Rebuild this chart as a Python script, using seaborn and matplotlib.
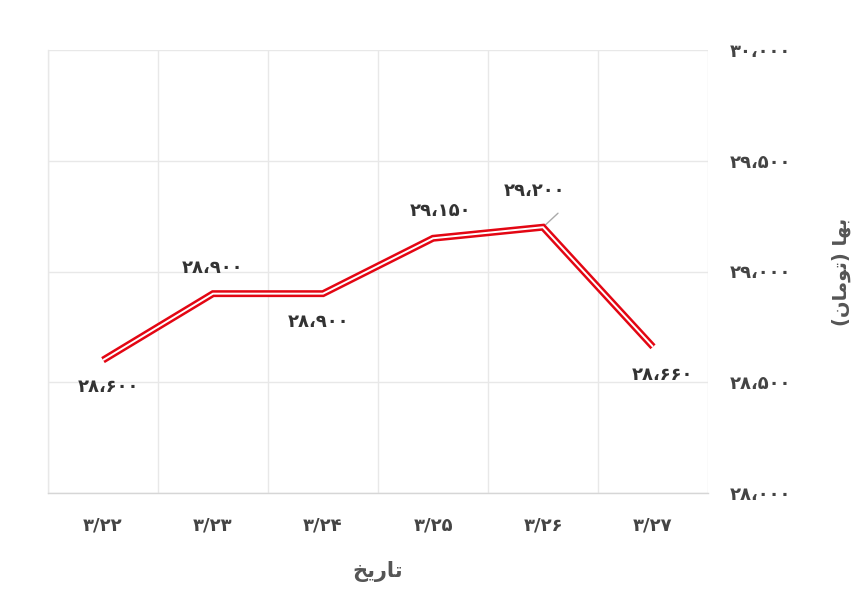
import matplotlib
matplotlib.use("Agg")
import matplotlib.pyplot as plt
import seaborn as sns
import pandas as pd

# --- data ---
DATES = ["3/22", "3/23", "3/24", "3/25", "3/26", "3/27"]
PRICES = [28600, 28900, 28900, 29150, 29200, 28660]
Y_TICKS = [28000, 28500, 29000, 29500, 30000]

# label offsets (pixels) relative to each point
LABEL_OFFSETS = [(5, -27), (0, 26), (-5, -28), (7, 27), (-8, 36), (9, -28)]

# shaped Persian text in visual order (matplotlib has no bidi/shaping)
X_LABEL = "\ufea6\ufbfe\ufead\ufe8e\ufe97"          # تاریخ
Y_LABEL = "(\ufee5\ufe8e\ufee3\ufeee\ufe97) \ufe8e\ufeec\ufe91"  # بها (تومان)

FA_DIGITS = str.maketrans("0123456789,", "۰۱۲۳۴۵۶۷۸۹،")


def fa(text):
    return str(text).translate(FA_DIGITS)


def fa_num(v):
    return fa(f"{v:,}")


df = pd.DataFrame({"date": DATES, "price": PRICES})
df["pos"] = range(len(df))

sns.set_theme(style="white")
plt.rcParams["font.family"] = ["DejaVu Sans"]

fig = plt.figure(figsize=(8.6, 5.96), dpi=100)
ax = fig.add_axes([48 / 860, 1 - 493 / 596, 660 / 860, 443 / 596])

sns.lineplot(data=df, x="pos", y="price", ax=ax, color="#e30613", linewidth=5,
             solid_joinstyle="miter", solid_capstyle="butt", zorder=3)
sns.lineplot(data=df, x="pos", y="price", ax=ax, color="white", linewidth=1.4,
             solid_joinstyle="miter", solid_capstyle="butt", zorder=4)

ax.set_xlim(-0.5, len(DATES) - 0.5)
ax.set_ylim(Y_TICKS[0], Y_TICKS[-1])

ax.set_xticks(df["pos"])
ax.set_xticklabels([fa(d) for d in DATES])
ax.set_xticks([p + 0.5 for p in range(-1, len(DATES))], minor=True)
ax.set_yticks(Y_TICKS)
ax.set_yticklabels([fa_num(v) for v in Y_TICKS])

ax.yaxis.tick_right()
ax.yaxis.set_label_position("right")
ax.tick_params(axis="both", which="both", length=0, colors="#444444", labelsize=13)
ax.tick_params(axis="x", pad=17)
ax.tick_params(axis="y", pad=16)
for lbl in ax.get_xticklabels() + ax.get_yticklabels():
    lbl.set_fontweight("bold")
for lbl in ax.get_yticklabels():
    lbl.set_horizontalalignment("left")

ax.grid(False)
ax.grid(True, axis="y", which="major", color="#e8e8e8", linewidth=1)
ax.grid(True, axis="x", which="minor", color="#e8e8e8", linewidth=1)

for side in ["top", "right"]:
    ax.spines[side].set_visible(False)
ax.spines["left"].set_color("#e8e8e8")
ax.spines["bottom"].set_color("#d6d6d6")
ax.spines["left"].set_linewidth(1)
ax.spines["bottom"].set_linewidth(1)

ax.set_xlabel(X_LABEL, fontsize=15, color="#555555", fontweight="bold", labelpad=19)
ax.set_ylabel(Y_LABEL, fontsize=14, color="#555555", fontweight="bold", labelpad=29,
              rotation=90)

for (pos, price), (dx, dy) in zip(zip(df["pos"], df["price"]), LABEL_OFFSETS):
    ax.annotate(fa_num(price), (pos, price), xytext=(dx, dy), textcoords="offset pixels",
                ha="center", va="center", fontsize=13, fontweight="bold", color="#333333",
                zorder=5)

# leader line for the 3/26 label
ax.annotate("", (4, PRICES[4]), xytext=(15, 14), textcoords="offset pixels",
            arrowprops=dict(arrowstyle="-", color="#aaaaaa", lw=1, shrinkA=0, shrinkB=0),
            zorder=2)

ax.set_facecolor("white")
fig.savefig("out.png", dpi=100, facecolor="white")
